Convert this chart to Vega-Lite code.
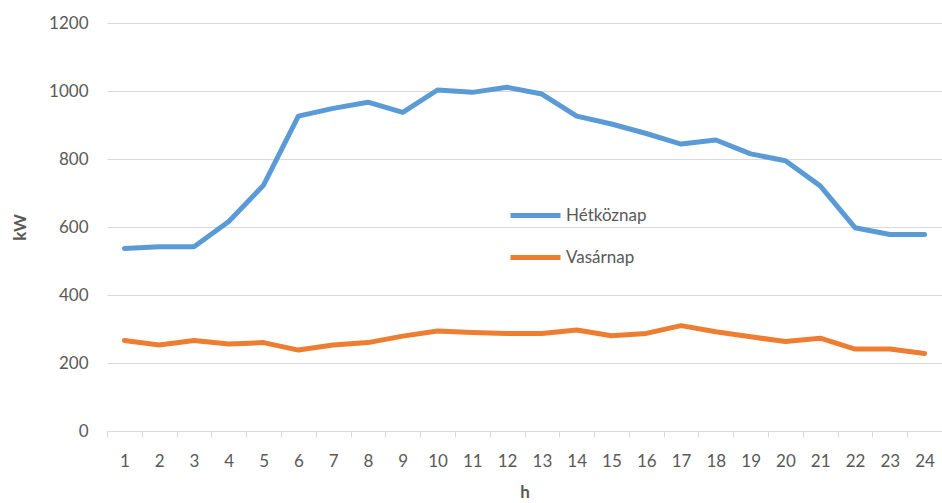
{
  "$schema": "https://vega.github.io/schema/vega-lite/v6.json",
  "width": 835,
  "height": 408,
  "autosize": "none",
  "padding": {"left": 107, "top": 23, "right": 0, "bottom": 72},
  "background": "white",
  "config": {
    "font": "Lato",
    "view": {"stroke": null}
  },
  "data": {
    "values": [
      {"h": 1, "s": "Hétköznap", "kW": 537}, {"h": 2, "s": "Hétköznap", "kW": 542}, {"h": 3, "s": "Hétköznap", "kW": 542},
      {"h": 4, "s": "Hétköznap", "kW": 616}, {"h": 5, "s": "Hétköznap", "kW": 723}, {"h": 6, "s": "Hétköznap", "kW": 926},
      {"h": 7, "s": "Hétköznap", "kW": 949}, {"h": 8, "s": "Hétköznap", "kW": 967}, {"h": 9, "s": "Hétköznap", "kW": 937},
      {"h": 10, "s": "Hétköznap", "kW": 1003}, {"h": 11, "s": "Hétköznap", "kW": 996}, {"h": 12, "s": "Hétköznap", "kW": 1011},
      {"h": 13, "s": "Hétköznap", "kW": 991}, {"h": 14, "s": "Hétköznap", "kW": 926}, {"h": 15, "s": "Hétköznap", "kW": 903},
      {"h": 16, "s": "Hétköznap", "kW": 875}, {"h": 17, "s": "Hétköznap", "kW": 844}, {"h": 18, "s": "Hétköznap", "kW": 856},
      {"h": 19, "s": "Hétköznap", "kW": 815}, {"h": 20, "s": "Hétköznap", "kW": 795}, {"h": 21, "s": "Hétköznap", "kW": 721},
      {"h": 22, "s": "Hétköznap", "kW": 598}, {"h": 23, "s": "Hétköznap", "kW": 578}, {"h": 24, "s": "Hétköznap", "kW": 578},
      {"h": 1, "s": "Vasárnap", "kW": 266}, {"h": 2, "s": "Vasárnap", "kW": 253}, {"h": 3, "s": "Vasárnap", "kW": 266},
      {"h": 4, "s": "Vasárnap", "kW": 256}, {"h": 5, "s": "Vasárnap", "kW": 260}, {"h": 6, "s": "Vasárnap", "kW": 238},
      {"h": 7, "s": "Vasárnap", "kW": 253}, {"h": 8, "s": "Vasárnap", "kW": 260}, {"h": 9, "s": "Vasárnap", "kW": 279},
      {"h": 10, "s": "Vasárnap", "kW": 294}, {"h": 11, "s": "Vasárnap", "kW": 290}, {"h": 12, "s": "Vasárnap", "kW": 287},
      {"h": 13, "s": "Vasárnap", "kW": 287}, {"h": 14, "s": "Vasárnap", "kW": 297}, {"h": 15, "s": "Vasárnap", "kW": 280},
      {"h": 16, "s": "Vasárnap", "kW": 287}, {"h": 17, "s": "Vasárnap", "kW": 310}, {"h": 18, "s": "Vasárnap", "kW": 292},
      {"h": 19, "s": "Vasárnap", "kW": 277}, {"h": 20, "s": "Vasárnap", "kW": 263}, {"h": 21, "s": "Vasárnap", "kW": 273},
      {"h": 22, "s": "Vasárnap", "kW": 241}, {"h": 23, "s": "Vasárnap", "kW": 241}, {"h": 24, "s": "Vasárnap", "kW": 228}
    ]
  },
  "mark": {"type": "line", "strokeWidth": 5, "strokeCap": "round", "strokeJoin": "round"},
  "encoding": {
    "x": {
      "field": "h", "type": "ordinal", "bandPosition": 0.5,
      "scale": {"type": "band", "paddingInner": 0, "paddingOuter": 0},
      "axis": {
        "title": "h", "labelAngle": 0, "tickBand": "extent",
        "domainColor": "#D9D9D9", "domainWidth": 1, "tickColor": "#D9D9D9", "tickSize": 6,
        "labelFontSize": 17, "labelColor": "#595959", "labelPadding": 16,
        "titleFontSize": 17, "titleFontWeight": "bold", "titleColor": "#595959", "titlePadding": 15
      }
    },
    "y": {
      "field": "kW", "type": "quantitative",
      "scale": {"domain": [0, 1200]},
      "axis": {
        "title": "kW", "values": [0, 200, 400, 600, 800, 1000, 1200], "format": "d",
        "domain": false, "ticks": false, "gridColor": "#D9D9D9", "gridWidth": 1,
        "labelFontSize": 17, "labelColor": "#595959", "labelPadding": 19,
        "titleFontSize": 17, "titleFontWeight": "bold", "titleColor": "#595959", "titlePadding": 19
      }
    },
    "color": {
      "field": "s", "type": "nominal",
      "scale": {"domain": ["Hétköznap", "Vasárnap"], "range": ["#5B9BD5", "#ED7D31"]},
      "legend": {
        "title": null, "orient": "none", "legendX": 401, "legendY": 165,
        "symbolType": "stroke", "symbolSize": 2500, "symbolStrokeWidth": 5,
        "labelFontSize": 17, "labelColor": "#595959", "rowPadding": 4, "labelOffset": 3
      }
    }
  }
}
